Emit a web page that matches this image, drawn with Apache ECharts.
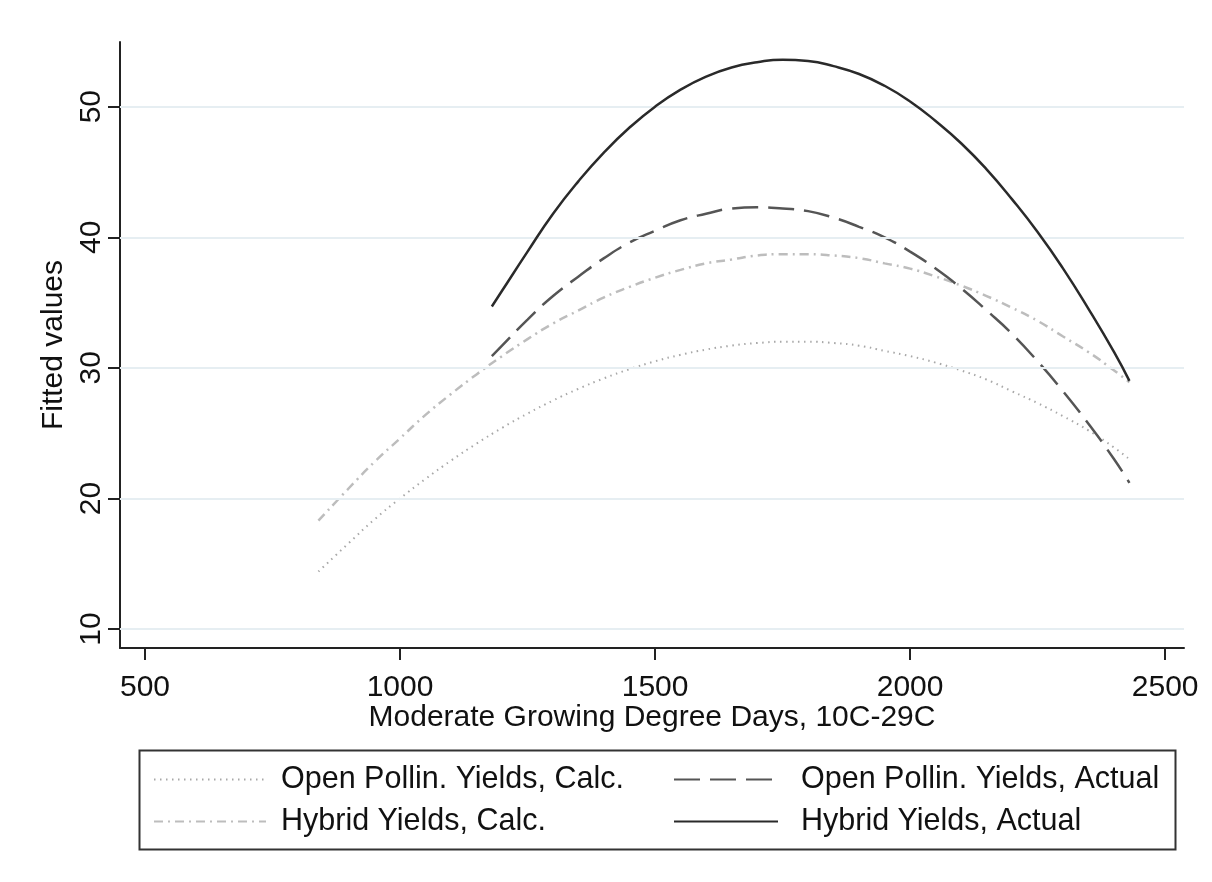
<!DOCTYPE html>
<html>
<head>
<meta charset="utf-8">
<script src="https://cdn.jsdelivr.net/npm/echarts@6/dist/echarts.min.js"></script>
<style>
html,body{margin:0;padding:0;background:#fff;}
#chart{width:1212px;height:882px;}
</style>
</head>
<body>
<div id="chart"></div>
<script>
// Degree-day sample positions and fitted values
const xCalc = [840, 900, 950, 1000, 1050, 1100, 1150, 1200, 1250, 1300, 1350, 1400, 1450, 1500, 1550, 1600, 1650, 1700, 1750, 1800, 1850, 1900, 1950, 2000, 2050, 2100, 2150, 2200, 2250, 2300, 2350, 2400, 2430];
const openPollinCalc = [14.4, 16.6, 18.4, 20.0, 21.5, 22.9, 24.2, 25.4, 26.5, 27.5, 28.4, 29.2, 29.9, 30.5, 31.0, 31.4, 31.7, 31.9, 32.0, 32.0, 31.9, 31.7, 31.3, 30.9, 30.4, 29.8, 29.1, 28.2, 27.3, 26.3, 25.2, 23.9, 23.0];
const hybridCalc = [18.3, 20.8, 22.8, 24.6, 26.4, 28.0, 29.5, 30.9, 32.2, 33.4, 34.4, 35.4, 36.2, 36.9, 37.5, 38.0, 38.3, 38.6, 38.7, 38.7, 38.6, 38.4, 38.0, 37.6, 37.0, 36.3, 35.5, 34.6, 33.6, 32.4, 31.2, 29.8, 28.9];

const xActual = [1180, 1200, 1250, 1300, 1350, 1400, 1450, 1500, 1550, 1600, 1650, 1700, 1750, 1800, 1850, 1900, 1950, 2000, 2050, 2100, 2150, 2200, 2250, 2300, 2350, 2400, 2430];
const openPollinActual = [30.9, 31.7, 33.7, 35.5, 37.0, 38.4, 39.6, 40.5, 41.3, 41.8, 42.2, 42.3, 42.2, 42.0, 41.5, 40.8, 40.0, 38.9, 37.6, 36.1, 34.4, 32.6, 30.5, 28.2, 25.7, 23.0, 21.2];
const hybridActual = [34.7, 35.9, 38.9, 41.8, 44.3, 46.5, 48.4, 50.0, 51.3, 52.3, 53.0, 53.4, 53.6, 53.5, 53.1, 52.5, 51.6, 50.4, 48.9, 47.2, 45.2, 42.9, 40.4, 37.6, 34.5, 31.2, 29.0];

const xTicks = [500, 1000, 1500, 2000, 2500];
const yTicks = [10, 20, 30, 40, 50];

const seriesNames = [
  'Open Pollin. Yields, Calc.',
  'Open Pollin. Yields, Actual',
  'Hybrid Yields, Calc.',
  'Hybrid Yields, Actual'
];

const pairs = (xs, ys) => xs.map((x, i) => [x, ys[i]]);

const chart = echarts.init(document.getElementById('chart'), null, {renderer: 'canvas'});
const FONT = 'Liberation Sans, Arial, sans-serif';

chart.setOption({
  backgroundColor: '#ffffff',
  animation: false,
  grid: {left: 120, right: 28, top: 42, bottom: 234, containLabel: false},
  xAxis: {
    type: 'value', min: 451, max: 2537,
    name: 'Moderate Growing Degree Days, 10C-29C',
    nameLocation: 'middle', nameGap: 55, nameMoveOverlap: false,
    nameTextStyle: {fontSize: 30, color: '#111', fontFamily: FONT},
    axisLine: {show: true, onZero: false, lineStyle: {color: '#222', width: 2}},
    axisTick: {show: true, customValues: xTicks, length: 12, lineStyle: {color: '#222', width: 2}},
    axisLabel: {customValues: xTicks, fontSize: 30, color: '#111', fontFamily: FONT, margin: 25,
      formatter: v => String(v)},
    splitLine: {show: false}
  },
  yAxis: {
    type: 'value', min: 8.55, max: 54.95,
    name: 'Fitted values',
    nameLocation: 'middle', nameGap: 33, nameRotate: 90,
    nameTextStyle: {fontSize: 30, color: '#111', fontFamily: FONT},
    axisLine: {show: true, onZero: false, lineStyle: {color: '#222', width: 2}},
    axisTick: {show: true, customValues: yTicks, length: 12, lineStyle: {color: '#222', width: 2}},
    axisLabel: {customValues: yTicks, fontSize: 30, color: '#111', fontFamily: FONT, rotate: 90, margin: 13,
      formatter: v => String(v)},
    splitLine: {show: false}
  },
  legend: [
    {
      orient: 'vertical', left: 148, top: 759, itemWidth: 112, itemHeight: 20, itemGap: 11,
      itemStyle: {opacity: 0},
      textStyle: {fontSize: 30.5, color: '#111', fontFamily: FONT, padding: [0, 0, 0, 10]},
      data: [seriesNames[0], seriesNames[2]]
    },
    {
      orient: 'vertical', left: 668, top: 759, itemWidth: 104, itemHeight: 20, itemGap: 11,
      itemStyle: {opacity: 0},
      textStyle: {fontSize: 30.5, color: '#111', fontFamily: FONT, padding: [0, 0, 0, 18]},
      data: [seriesNames[1], seriesNames[3]]
    }
  ],
  graphic: [{
    type: 'rect', left: 137, top: 748, silent: true,
    shape: {width: 1036, height: 99},
    style: {fill: 'none', stroke: '#333', lineWidth: 2}
  }],
  series: [
    {
      name: 'grid', type: 'line', data: [], silent: true, z: 1,
      markLine: {
        silent: true, symbol: 'none', animation: false,
        label: {show: false},
        lineStyle: {color: '#e6eef2', width: 2, type: 'solid'},
        emphasis: {disabled: true},
        data: yTicks.map(v => ({yAxis: v}))
      }
    },
    {
      name: seriesNames[0], type: 'line', smooth: true, symbol: 'none', z: 3,
      data: pairs(xCalc, openPollinCalc),
      lineStyle: {color: '#a8a8a8', width: 2, type: [1.5, 4.5]},
      itemStyle: {color: '#a8a8a8'}
    },
    {
      name: seriesNames[1], type: 'line', smooth: true, symbol: 'none', z: 4,
      data: pairs(xActual, openPollinActual),
      lineStyle: {color: '#555555', width: 2.5, type: [26, 10]},
      itemStyle: {color: '#555555'}
    },
    {
      name: seriesNames[2], type: 'line', smooth: true, symbol: 'none', z: 3,
      data: pairs(xCalc, hybridCalc),
      lineStyle: {color: '#bdbdbd', width: 2.5, type: [9, 5, 2, 5]},
      itemStyle: {color: '#bdbdbd'}
    },
    {
      name: seriesNames[3], type: 'line', smooth: true, symbol: 'none', z: 5,
      data: pairs(xActual, hybridActual),
      lineStyle: {color: '#2a2a2a', width: 2.5, type: 'solid'},
      itemStyle: {color: '#2a2a2a'}
    }
  ]
});
</script>
</body>
</html>
